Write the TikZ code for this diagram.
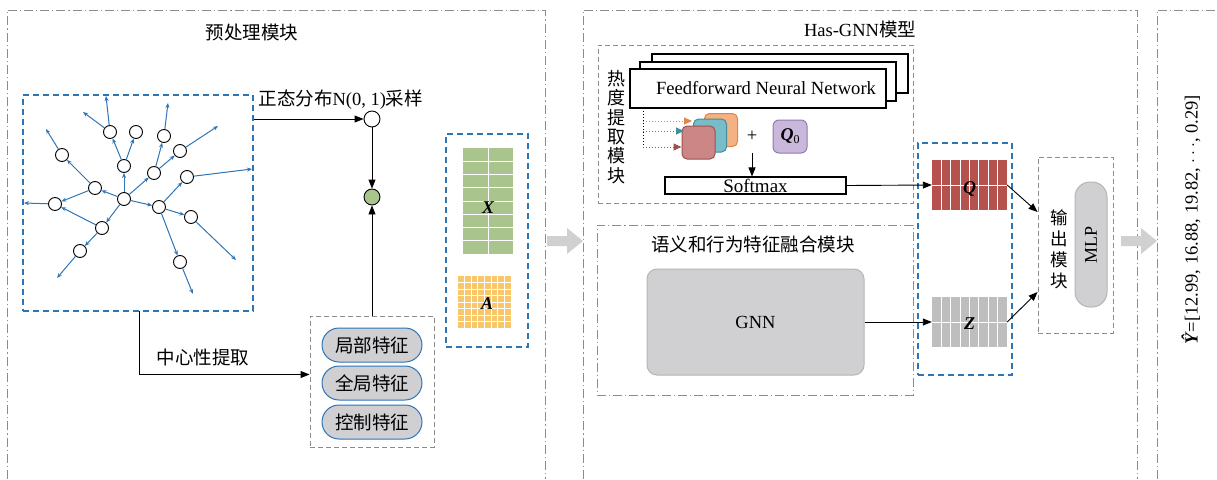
\documentclass[tikz,border=0pt]{standalone}
\usepackage{fontspec}
\setmainfont{Liberation Serif}
\newfontfamily\cjk{Noto Sans CJK SC}
\usetikzlibrary{arrows.meta}
\definecolor{blueL}{HTML}{2E75B6}
\definecolor{greenM}{HTML}{A9C48C}
\definecolor{yellowM}{HTML}{F7C76A}
\definecolor{redM}{HTML}{B5524E}
\definecolor{grayM}{HTML}{BEBEBE}
\definecolor{pillF}{HTML}{D0D0D3}
\definecolor{orangeF}{HTML}{F4B183}
\definecolor{orangeD}{HTML}{E0864A}
\definecolor{tealF}{HTML}{78BCC8}
\definecolor{tealD}{HTML}{3E8E9E}
\definecolor{redF}{HTML}{CC8686}
\definecolor{redD}{HTML}{A04F4F}
\definecolor{purpleF}{HTML}{C9B8DC}
\definecolor{purpleD}{HTML}{8E7BB0}
\definecolor{gnnF}{HTML}{D0D0D2}
\definecolor{gnnD}{HTML}{B5B5B5}
\definecolor{arrowG}{HTML}{D0D0D0}
\definecolor{lineG}{HTML}{8C8C8C}
\begin{document}
\begin{tikzpicture}[x=1pt,y=-1pt,
  every node/.style={font=\fontsize{18.5}{20}\selectfont},
  outer/.style={draw=lineG, line width=0.8pt, dash pattern=on 9pt off 3pt on 1.2pt off 3pt},
  gdash/.style={draw=lineG, line width=0.9pt, dash pattern=on 5pt off 3pt},
  bdash/.style={draw=blueL, line width=1.1pt, dash pattern=on 6pt off 4pt},
  gnode/.style={circle, draw=black, fill=white, line width=0.9pt, minimum size=13pt, inner sep=0pt},
  garrow/.style={-{Stealth[length=5pt,width=4pt]}, draw=blueL, line width=1pt},
  conn/.style={-{Triangle[length=9pt,width=7pt]}, line width=0.9pt},
  pill/.style={draw=blueL, fill=pillF, rounded corners=17pt, minimum width=100pt, minimum height=34pt, line width=1pt, inner sep=0pt, font=\cjk\fontsize{18.5}{19}\selectfont},
  cjkt/.style={font=\cjk\fontsize{18.5}{20}\selectfont},
  mlab/.style={font=\fontsize{18}{18}\selectfont\bfseries\itshape},
  fnn/.style={draw=black, fill=white, line width=1.1pt, minimum width=256pt, minimum height=39pt, inner sep=0pt},
  sq/.style={rounded corners=5pt, line width=1pt, minimum width=33pt, minimum height=33pt, inner sep=0pt}
]
\useasboundingbox (0,0) rectangle (1217,479);

% outer modules
\draw[outer] (7,479) -- (7,10) -- (545,10) -- (545,479);
\draw[outer] (583,479) -- (583,10) -- (1137,10) -- (1137,479);
\draw[outer] (1157,479) -- (1157,10) -- (1217,10);
\node[cjkt] (t1) at (252,32) {预处理模块};
\node (t2) at (860,29) {Has-GNN{\cjk 模型}};

% big gray arrows
\fill[arrowG] (547,236) -- (567,236) -- (567,228) -- (583,241) -- (567,254) -- (567,246) -- (547,246) -- cycle;
\fill[arrowG] (1121,236) -- (1141,236) -- (1141,228) -- (1157,241) -- (1141,254) -- (1141,246) -- (1121,246) -- cycle;

% graph box
\node[bdash, minimum width=230pt, minimum height=216pt] (gbox) at (138,203) {};
\foreach \n/\x/\y in {c/124/199, n1/110/132, n2/136/132, n3/124/166, n4/164/136, n5/180/151, n6/154/173, n7/187/177, n8/62/155, n9/95/188, n10/55/204, n11/159/207, n12/191/217, n13/102/228, n14/80/251, n15/180/262}
  \node[gnode] (\n) at (\x,\y) {};
\foreach \n/\x/\y in {e1/106/96, e2/83/112, e3/168/103, e4/218/126, e5/252/169, e6/236/260, e7/193/294, e8/46/129, e9/24/203, e10/57/278}
  \coordinate (\n) at (\x,\y);
\foreach \a/\b in {c/n3, n3/n1, n3/n2, n1/e1, n1/e2, c/n6, n6/n4, n4/e3, n6/n5, n5/e4, c/n11, n11/n7, n7/e5, n11/n12, n12/e6, n11/n15, n15/e7, c/n9, n9/n8, n8/e8, n9/n10, n10/e9, c/n13, n13/n10, n13/n14, n14/e10}
  \draw[garrow] (\a) -- (\b);

% sampling
\node[circle, draw=black, fill=white, line width=0.9pt, minimum size=16pt, inner sep=0pt] (W) at (372,119) {};
\node[circle, draw=black, fill=greenM, line width=0.9pt, minimum size=16pt, inner sep=0pt] (G) at (372,197) {};
\draw[conn] (gbox.east |- W) -- (W);
\node[anchor=west] (ls) at (255,100) {{\cjk 正态分布}N(0, 1){\cjk 采样}};
\draw[conn] (W) -- (G);

% features
\node[gdash, minimum width=124pt, minimum height=131pt] (fbox) at (372,381.5) {};
\node[pill] (p1) at (372,345) {局部特征};
\node[pill] (p2) at (372,383) {全局特征};
\node[pill] (p3) at (372,422) {控制特征};
\draw[conn] (fbox.north) -- (G);
\coordinate (cs) at (139,311);
\draw[conn] (cs) |- ([yshift=7pt]fbox.west);
\node[cjkt] (lc) at (203,357) {中心性提取};

% X and A
\node[bdash, minimum width=82pt, minimum height=213pt] (xabox) at (487,240.5) {};
\node[fill=greenM, minimum width=50pt, minimum height=106pt, inner sep=0pt] (X) at (488,201) {};
\draw[white, line width=1pt] (488,148) -- (488,254);
\foreach \k in {1,...,7} \draw[white, line width=1pt] (463,148+13.25*\k) -- (513,148+13.25*\k);
\node[mlab] (Xl) at (488,208) {X};
\node[fill=yellowM, minimum width=53pt, minimum height=52pt, inner sep=0pt] (A) at (484.5,302) {};
\foreach \k in {1,...,7} {
  \draw[white, line width=1pt] (458+6.625*\k,276) -- (458+6.625*\k,328);
  \draw[white, line width=1pt] (458,276+6.5*\k) -- (511,276+6.5*\k);
}
\node[mlab] (Al) at (487,304) {A};

% heat module
\node[gdash, minimum width=315pt, minimum height=158pt] (hbox) at (755.5,124) {};
\node[align=center, font=\cjk\fontsize{18}{19.3}\selectfont] (hv) at (616,127) {热\\度\\提\\取\\模\\块};
\node[fnn] (f3) at (780,73.5) {};
\node[fnn] (f2) at (768,81.5) {};
\node[fnn] (f1) at (758,88.5) {};
\node[font=\fontsize{18.6}{20}\selectfont] (ft) at (766,88.5) {Feedforward Neural Network};
\node[sq, fill=orangeF, draw=orangeD] (so) at (721,130) {};
\node[sq, fill=tealF, draw=tealD] (st) at (710,135.5) {};
\node[sq, fill=redF, draw=redD] (sr) at (698.5,142.5) {};
\coordinate (tap) at (643,108);
\coordinate (tapb) at (643,147);
\draw[dotted, line width=1pt] (tap) -- (tapb);
\coordinate (bo) at (643,121);
\coordinate (bt) at (643,131);
\coordinate (ao) at (692,121);
\coordinate (at) at (684,131);
\draw[dotted, line width=1pt, draw=orangeD, -{Triangle[length=8pt,width=7pt,fill=orangeD]}] (bo) -- (ao);
\draw[dotted, line width=1pt, draw=tealD, -{Triangle[length=8pt,width=7pt,fill=tealD]}] (bt) -- (at);
\draw[dotted, line width=1pt, draw=redD, -{Triangle[length=8pt,width=7pt,fill=redD]}] (tapb) -- (sr.west |- tapb);
\node (plus) at (752,136) {+};
\node[rounded corners=6pt, fill=purpleF, draw=purpleD, line width=1pt, minimum width=34pt, minimum height=33pt, inner sep=0pt] (q0) at (790,136.5) {\fontsize{18}{18}\selectfont\textbf{\textit{Q}}\raisebox{-3pt}{\fontsize{12}{12}\selectfont 0}};
\node[draw=black, line width=1.1pt, minimum width=181pt, minimum height=17pt, inner sep=0pt, font=\fontsize{19}{19}\selectfont] (smax) at (755.5,185.5) {Softmax};
\coordinate (pdown) at (752,153);
\draw[conn] (pdown) -- (pdown |- smax.north);

% Q and Z
\node[bdash, minimum width=94pt, minimum height=232pt] (qzbox) at (965,259) {};
\node[fill=redM, minimum width=75pt, minimum height=50pt, inner sep=0pt] (Q) at (969.5,185) {};
\node[fill=grayM, minimum width=75pt, minimum height=50pt, inner sep=0pt] (Z) at (969.5,322) {};
\foreach \k in {1,...,7} {
  \draw[white, line width=1pt] (932+9.375*\k,160) -- (932+9.375*\k,210);
  \draw[white, line width=1pt] (932+9.375*\k,297) -- (932+9.375*\k,347);
}
\draw[white, line width=1pt] (932,185) -- (1007,185);
\draw[white, line width=1pt] (932,322) -- (1007,322);
\node[mlab] (Ql) at (969.5,189) {Q};
\node[mlab] (Zl) at (969.5,324) {Z};
\draw[conn] (smax.east) -- (Q.west);

% semantic module
\node[outer, minimum width=316pt, minimum height=170pt] (sbox) at (755,310) {};
\node[font=\cjk\fontsize{18.5}{20}\selectfont] (st2) at (753,244) {语义和行为特征融合模块};
\node[fill=gnnF, draw=gnnD, rounded corners=10pt, line width=1pt, minimum width=217pt, minimum height=106pt] (gnn) at (755.5,322) {GNN};
\draw[conn] (gnn.east) -- (Z.west);

% output module
\node[gdash, minimum width=75pt, minimum height=176pt] (obox) at (1075.5,245) {};
\node[align=center, font=\cjk\fontsize{17.5}{21}\selectfont] (ov) at (1059,249) {输\\出\\模\\块};
\node[fill=gnnF, draw=gnnD, rounded corners=15pt, line width=1pt, minimum width=32pt, minimum height=125pt] (mlp) at (1091,244.5) {};
\node[rotate=90, font=\fontsize{18}{18}\selectfont] (mlpt) at (mlp) {MLP};
\coordinate (oin1) at ([yshift=33pt]obox.west);
\coordinate (oin2) at ([yshift=-47pt]obox.west);
\draw[conn] (Q.east) -- (oin1);
\draw[conn] (Z.east) -- (oin2);

% result
\node[rotate=90] (yhat) at (1191,220) {\textbf{\textit{\^Y}}=[12.99, 16.88, 19.82, $\cdots$, 0.29]};
\end{tikzpicture}
\end{document}
